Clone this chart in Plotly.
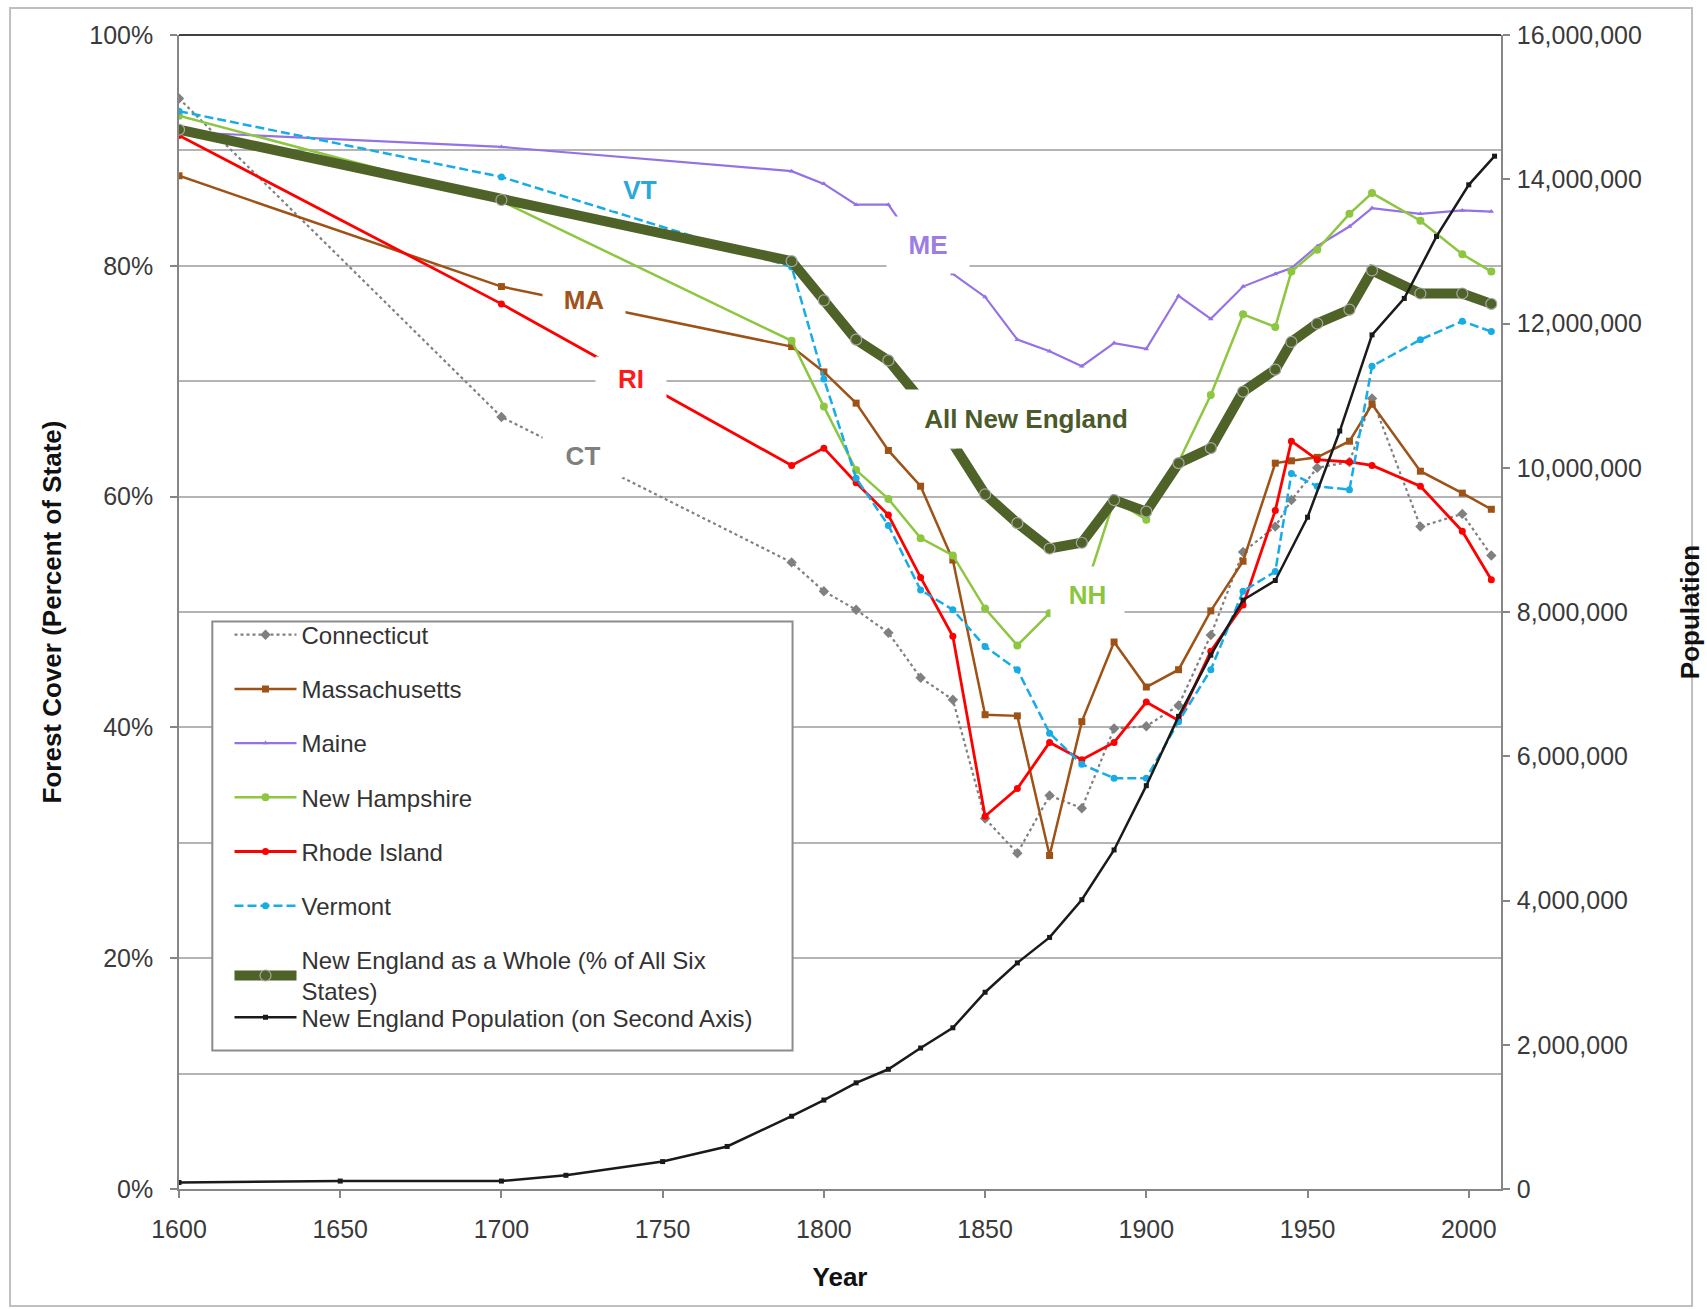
import plotly.graph_objects as go

# ---------------- data ----------------
years = [1600, 1700, 1790, 1800, 1810, 1820, 1830, 1840, 1850, 1860, 1870, 1880,
         1890, 1900, 1910, 1920, 1930, 1940, 1945, 1953, 1963, 1970, 1985, 1998, 2007]

connecticut = [94.5, 66.9, 54.3, 51.8, 50.2, 48.2, 44.3, 42.4, 32.1, 29.1, 34.1, 33.0,
               39.9, 40.1, 41.9, 48.0, 55.2, 57.4, 59.7, 62.5, 63.0, 68.5, 57.4, 58.5, 54.9]
massachusetts = [87.8, 78.2, 73.0, 70.8, 68.1, 64.0, 60.9, 54.5, 41.1, 41.0, 28.9, 40.5,
                 47.4, 43.5, 45.0, 50.1, 54.4, 62.9, 63.1, 63.4, 64.8, 68.0, 62.2, 60.3, 58.9]
maine = [91.6, 90.3, 88.2, 87.1, 85.3, 85.3, 81.3, 79.3, 77.3, 73.6, 72.6, 71.3,
         73.3, 72.8, 77.4, 75.4, 78.2, 79.3, 79.8, 81.7, 83.4, 85.0, 84.5, 84.8, 84.7]
new_hampshire = [93.0, 85.6, 73.5, 67.8, 62.3, 59.8, 56.4, 54.9, 50.3, 47.1, 49.9, 51.0,
                 59.7, 58.0, 63.0, 68.8, 75.8, 74.7, 79.5, 81.4, 84.5, 86.3, 83.9, 81.0, 79.5]
rhode_island = [91.3, 76.7, 62.7, 64.2, 61.2, 58.4, 53.0, 47.9, 32.3, 34.7, 38.7, 37.2,
                38.7, 42.2, 40.6, 46.6, 50.6, 58.8, 64.8, 63.2, 63.0, 62.7, 60.9, 57.0, 52.8]
vermont = [93.4, 87.7, 79.9, 70.2, 61.6, 57.5, 51.9, 50.2, 47.0, 45.0, 39.5, 36.8,
           35.6, 35.6, 40.5, 45.0, 51.8, 53.5, 62.0, 60.9, 60.6, 71.3, 73.6, 75.2, 74.3]
new_england = [91.8, 85.7, 80.4, 77.0, 73.6, 71.8, 68.4, 64.6, 60.2, 57.7, 55.5, 56.0,
               59.7, 58.7, 62.9, 64.2, 69.1, 71.0, 73.4, 75.0, 76.2, 79.6, 77.6, 77.6, 76.7]

pop_years = [1600, 1650, 1700, 1720, 1750, 1770, 1790, 1800, 1810, 1820, 1830, 1840,
             1850, 1860, 1870, 1880, 1890, 1900, 1910, 1920, 1930, 1940, 1950, 1960,
             1970, 1980, 1990, 2000, 2008]
population = [90000, 110000, 110000, 190000, 380000, 590000, 1009000, 1233000, 1472000,
              1660000, 1955000, 2235000, 2728000, 3135000, 3488000, 4011000, 4701000,
              5592000, 6553000, 7401000, 8166000, 8437000, 9314000, 10509000, 11842000,
              12348000, 13207000, 13923000, 14320000]

x_ticks = [1600, 1650, 1700, 1750, 1800, 1850, 1900, 1950, 2000]
pct_ticks = [0, 20, 40, 60, 80, 100]
pct_labels = ["0%", "20%", "40%", "60%", "80%", "100%"]
pop_ticks = [0, 2000000, 4000000, 6000000, 8000000, 10000000, 12000000, 14000000, 16000000]

# label annotations: text, year, percent, colour, box width, box height
label_text = ["VT", "ME", "MA", "RI", "CT", "All New England", "NH"]
label_year = [1743.0, 1832.2, 1725.6, 1740.3, 1725.4, 1862.8, 1881.7]
label_pct = [86.6, 81.8, 77.0, 70.2, 63.6, 66.7, 51.5]
label_color = ["#2AA8DE", "#9B7DE3", "#A0531A", "#FF1A1A", "#7F7F7F", "#4A5A2A", "#8CC63F"]
label_w = [56, 82, 82, 70, 80, 240, 73]
label_h = [40, 56, 44, 44, 43, 58, 55]

FONT = 'Arial, "Liberation Sans", sans-serif'

fig = go.Figure()

series = [
    ("Connecticut", connecticut, "#808080", "3px,3px", "diamond", 8, 2.2),
    ("Massachusetts", massachusetts, "#9E5216", "solid", "square", 7, 2.5),
    ("Maine", maine, "#9471E6", "solid", "triangle-up", 5, 2.2),
    ("New Hampshire", new_hampshire, "#8DC640", "solid", "circle", 8, 2.5),
    ("Rhode Island", rhode_island, "#FF0000", "solid", "circle", 7, 2.8),
    ("Vermont", vermont, "#17ACE6", "9px,4px", "circle", 7, 2.5),
]
for i, (name, vals, color, dash, sym, msize, lw) in enumerate(series):
    fig.add_trace(go.Scatter(
        x=years, y=vals, name=name, mode="lines+markers",
        line=dict(color=color, width=lw, dash=dash),
        marker=dict(symbol=sym, size=msize, color=color),
        legendgroup="g%d" % i,
    ))

fig.add_trace(go.Scatter(
    x=years, y=new_england, name="New England as a Whole (% of All Six<br>States)",
    mode="lines+markers",
    line=dict(color="#4F6228", width=10),
    marker=dict(symbol="circle", size=11, color="#4F6228", line=dict(color="#A8A8A8", width=1.2)),
    legendgroup="g6",
))

fig.add_trace(go.Scatter(
    x=pop_years, y=population, name="New England Population (on Second Axis)",
    mode="lines+markers", yaxis="y2",
    line=dict(color="#1A1A1A", width=2.5),
    marker=dict(symbol="square", size=5, color="#1A1A1A"),
    legend="legend2",
))

annotations = []
for t, xv, yv, c, w, h in zip(label_text, label_year, label_pct, label_color, label_w, label_h):
    annotations.append(dict(
        x=xv, y=yv, xref="x", yref="y", text="<b>%s</b>" % t, showarrow=False,
        font=dict(family=FONT, size=26, color=c), bgcolor="white",
        width=w, height=h, borderpad=0, xanchor="center", yanchor="middle",
    ))

shapes = [
    # outer chart-area border
    dict(type="rect", xref="paper", yref="paper", x0=-0.1278, x1=1.1445, y0=-0.1014, y1=1.0234,
         line=dict(color="#BFBFBF", width=2), fillcolor="rgba(0,0,0,0)", layer="below"),
    # dark top border of the plot area
    dict(type="line", xref="paper", yref="paper", x0=0, x1=1, y0=1, y1=1,
         line=dict(color="#404040", width=2), layer="above"),
    # legend box
    dict(type="rect", xref="paper", yref="paper", x0=0.0252, x1=0.4641, y0=0.120, y1=0.4917,
         line=dict(color="#8C8C8C", width=2), fillcolor="white", layer="above"),
]

axis_line = "#868686"
fig.update_layout(
    width=1707, height=1309,
    margin=dict(l=179, r=206, t=35, b=120),
    paper_bgcolor="white", plot_bgcolor="white",
    font=dict(family=FONT, size=25, color="#3A3A3A"),
    xaxis=dict(
        range=[1600, 2010], tickvals=x_ticks, ticks="outside", ticklen=7, tickwidth=1.5,
        tickcolor=axis_line, showline=True, linecolor=axis_line, linewidth=1.5,
        showgrid=False, zeroline=False, ticklabelstandoff=10, automargin=False,
        title=dict(text="<b>Year</b>", font=dict(size=26, color="#111111"), standoff=26),
    ),
    yaxis=dict(
        range=[0, 100], tickvals=pct_ticks, ticktext=pct_labels, ticks="outside", ticklen=7,
        tickwidth=1.5, tickcolor=axis_line, showline=True, linecolor=axis_line, linewidth=1.5,
        showgrid=True, gridcolor="#B4B4B4", gridwidth=1.5, zeroline=False, automargin=False,
        minor=dict(dtick=10, tick0=0, showgrid=True, gridcolor="#B4B4B4", gridwidth=1.5, ticks=""),
        ticklabelstandoff=12,
        title=dict(text="<b>Forest Cover (Percent of State)</b>", font=dict(size=26, color="#111111"),
                   standoff=20),
    ),
    yaxis2=dict(
        overlaying="y", side="right", range=[0, 16000000], tickvals=pop_ticks,
        tickformat=",d", ticks="outside", ticklen=7, tickwidth=1.5, tickcolor=axis_line,
        showline=True, linecolor=axis_line, linewidth=1.5, showgrid=False, zeroline=False,
        ticklabelstandoff=2, automargin=False,
        title=dict(text="<b>Population</b>", font=dict(size=26, color="#111111"), standoff=40),
    ),
    legend=dict(
        x=0.0382, y=0.4995, xanchor="left", yanchor="top", bgcolor="rgba(0,0,0,0)",
        borderwidth=0, font=dict(family=FONT, size=24, color="#333333"),
        itemwidth=62, tracegroupgap=20, traceorder="grouped",
    ),
    legend2=dict(
        x=0.0382, y=0.1680, xanchor="left", yanchor="top", bgcolor="rgba(0,0,0,0)",
        borderwidth=0, font=dict(family=FONT, size=24, color="#333333"), itemwidth=62,
    ),
    annotations=annotations,
    shapes=shapes,
    showlegend=True,
)

fig.write_html("out.html", config={"displayModeBar": False},
               post_script="document.body.style.margin='0';")
